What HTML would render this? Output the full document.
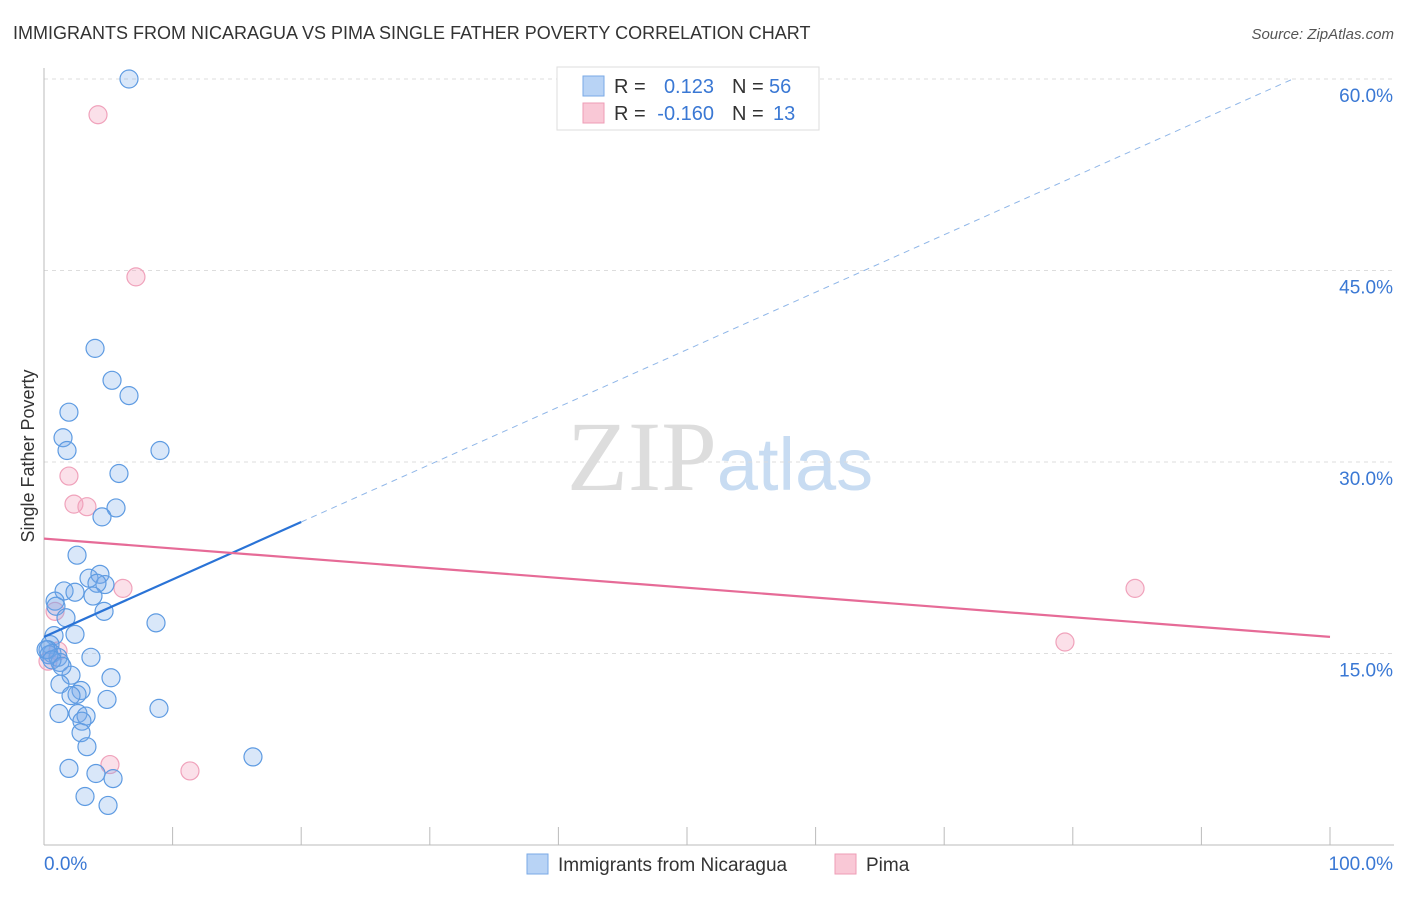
<!DOCTYPE html>
<html><head><meta charset="utf-8"><style>
body{margin:0;background:#fff;font-family:"Liberation Sans",sans-serif}
</style></head><body>
<svg id="chart" width="1406" height="892" xmlns="http://www.w3.org/2000/svg" font-family="Liberation Sans, sans-serif">
<text x="13" y="39" font-size="18" fill="#333">IMMIGRANTS FROM NICARAGUA VS PIMA SINGLE FATHER POVERTY CORRELATION CHART</text>
<text x="1394" y="39" font-size="15" fill="#555" text-anchor="end" font-style="italic">Source: ZipAtlas.com</text>
<text x="720" y="490" font-size="100" text-anchor="middle" fill="#ddd" font-family="Liberation Serif, serif">ZIP<tspan fill="#c8dcf2" font-family="Liberation Sans, sans-serif" font-size="74">atlas</tspan></text>
<g id="grid"></g><g id="axes"></g><g id="marks"></g>
<text transform="translate(34,456) rotate(-90)" font-size="18" fill="#333" text-anchor="middle">Single Father Poverty</text>
<g>
<rect x="557" y="67" width="262" height="63" fill="#fff" stroke="#ddd"/>
<rect x="583" y="76" width="21" height="20" fill="#b8d3f5" stroke="#7aa9e6"/>
<rect x="583" y="103" width="21" height="20" fill="#f9c8d6" stroke="#ee9cb6"/>
<text x="614" y="93" font-size="20" fill="#333">R =</text>
<text x="714" y="93" font-size="20" fill="#3a78d4" text-anchor="end">0.123</text>
<text x="732" y="93" font-size="20" fill="#333">N =</text>
<text x="769" y="93" font-size="20" fill="#3a78d4">56</text>
<text x="614" y="120" font-size="20" fill="#333">R =</text>
<text x="714" y="120" font-size="20" fill="#3a78d4" text-anchor="end">-0.160</text>
<text x="732" y="120" font-size="20" fill="#333">N =</text>
<text x="773" y="120" font-size="20" fill="#3a78d4">13</text>
</g>
<g>
<rect x="527" y="854" width="21" height="20" fill="#b8d3f5" stroke="#7aa9e6"/>
<text x="558" y="871" font-size="19" fill="#333">Immigrants from Nicaragua</text>
<rect x="835" y="854" width="21" height="20" fill="#f9c8d6" stroke="#ee9cb6"/>
<text x="866" y="871" font-size="19" fill="#333">Pima</text>
</g>
</svg>
<script>
const yTicks=[15,30,45,60];
const yTickLabels=["15.0%","30.0%","45.0%","60.0%"];
const xTicks=[0,10,20,30,40,50,60,70,80,90,100];
const blueX=[6.61,3.97,5.29,6.61,1.94,1.48,1.79,9.02,5.83,5.60,4.51,2.57,3.50,4.35,4.74,4.12,1.56,2.41,3.81,0.86,0.93,4.67,1.71,8.71,2.41,0.78,0.47,0.31,0.62,1.09,1.24,3.65,2.10,5.21,1.24,2.88,2.57,2.10,4.90,8.94,1.17,2.64,3.27,2.95,2.88,3.34,1.94,16.25,4.04,5.37,3.19,4.98,0.39,0.16,0.62,1.40];
const blueY=[60.0,38.9,36.4,35.2,33.9,31.9,30.9,30.9,29.1,26.4,25.7,22.7,20.9,21.2,20.4,20.5,19.9,19.8,19.5,19.1,18.7,18.3,17.8,17.4,16.5,16.4,15.7,15.3,15.0,14.7,14.3,14.7,13.3,13.1,12.6,12.1,11.8,11.7,11.4,10.7,10.3,10.3,10.1,9.7,8.8,7.7,6.0,6.9,5.6,5.2,3.8,3.1,14.9,15.3,14.5,14.0];
const pinkX=[4.20,7.15,1.94,2.33,3.34,6.14,0.86,1.09,0.31,5.13,11.35,79.39,84.84];
const pinkY=[57.2,44.5,28.9,26.7,26.5,20.1,18.3,15.2,14.4,6.3,5.8,15.9,20.1];
const blueTrend=[16.3,0.45]; // intercept, slope per %
const pinkTrend=[24.0,-0.077];
const L=44,R=1330,T=79,B=845;
const sx=v=>L+(R-L)*v/100;
const sy=v=>B-(B-T)*v/60;
const NS="http://www.w3.org/2000/svg";
function mk(tag,attrs,parent){const e=document.createElementNS(NS,tag);for(const k in attrs)e.setAttribute(k,attrs[k]);parent.appendChild(e);return e;}
const grid=document.getElementById('grid'),axes=document.getElementById('axes'),marks=document.getElementById('marks');
yTicks.forEach((t,i)=>{
 const g=mk('line',{x1:L,x2:1394,y1:sy(t),y2:sy(t),stroke:'#ddd','stroke-dasharray':'4,4'},grid);
 
 
 const tx=mk('text',{x:1393,y:sy(t)+23,'font-size':19,fill:'#3a78d4','text-anchor':'end'},axes);
 tx.textContent=yTickLabels[i];
 
 
});
const ya=mk('line',{x1:L,x2:L,y1:68,y2:B,stroke:'#bbb'},axes);


const xa=mk('line',{x1:L,x2:1394,y1:B,y2:B,stroke:'#bbb'},axes);


xTicks.forEach(t=>{
 const tk=mk('line',{x1:sx(t),x2:sx(t),y1:B,y2:B-18,stroke:'#bbb'},axes);
 
 
});
const x0=mk('text',{x:44,y:870,'font-size':19,fill:'#3a78d4'},axes);x0.textContent='0.0%';


const x1=mk('text',{x:1393,y:870,'font-size':19,fill:'#3a78d4','text-anchor':'end'},axes);x1.textContent='100.0%';


pinkX.forEach((x,i)=>{
 const c=mk('circle',{cx:sx(x),cy:sy(pinkY[i]),r:9,fill:'rgba(244,160,188,0.32)',stroke:'#f0a2bb','stroke-width':1.2},marks);
 
 
});
blueX.forEach((x,i)=>{
 const c=mk('circle',{cx:sx(x),cy:sy(blueY[i]),r:9,fill:'rgba(120,170,235,0.28)',stroke:'#5e9be2','stroke-width':1.2},marks);
 
 
});
const bx2=Math.min(100,(60-blueTrend[0])/blueTrend[1]);
const bd=mk('line',{x1:sx(20),y1:sy(blueTrend[0]+20*blueTrend[1]),x2:sx(bx2),y2:sy(blueTrend[0]+bx2*blueTrend[1]),stroke:'#8fb6e8','stroke-width':1,'stroke-dasharray':'6,5'},marks);


const bl=mk('line',{x1:sx(0),y1:sy(blueTrend[0]),x2:sx(20),y2:sy(blueTrend[0]+20*blueTrend[1]),stroke:'#2a73d6','stroke-width':2.2},marks);


const pl=mk('line',{x1:sx(0),y1:sy(pinkTrend[0]),x2:sx(100),y2:sy(pinkTrend[0]+100*pinkTrend[1]),stroke:'#e66b97','stroke-width':2.2},marks);


</script>
</body></html>
